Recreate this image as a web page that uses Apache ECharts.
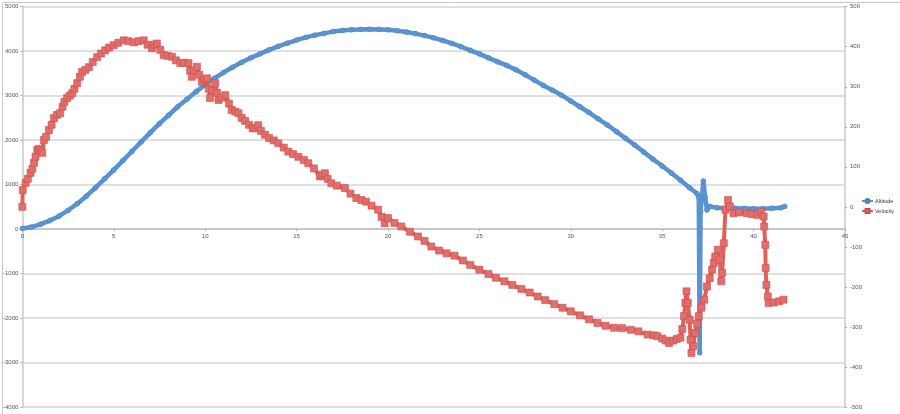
<!DOCTYPE html>
<html>
<head>
<meta charset="utf-8">
<script src="https://cdn.jsdelivr.net/npm/echarts@6/dist/echarts.min.js"></script>
<style>
html,body{margin:0;padding:0;background:#fff;}
#chart{width:900px;height:414px;}
</style>
</head>
<body>
<div id="chart"></div>
<script>
// Time (s) and altitude (left axis)
const altitudeData = [
  [0,15],[0.5,45],[1,110],[1.5,190],[2,290],[2.5,420],[3,570],[3.5,740],[4,930],[4.5,1130],
  [5,1330],[5.5,1540],[6,1750],[6.5,1960],[7,2170],[7.5,2370],[8,2560],[8.5,2750],[9,2920],[9.5,3090],
  [10,3240],[10.5,3390],[11,3520],[11.5,3640],[12,3750],[12.5,3850],[13,3940],[13.5,4030],[14,4110],[14.5,4180],
  [15,4250],[15.5,4310],[16,4360],[16.5,4400],[17,4440],[17.5,4465],[18,4480],[18.5,4490],[19,4495],[19.5,4490],
  [20,4480],[20.5,4460],[21,4430],[21.5,4395],[22,4350],[22.5,4300],[23,4240],[23.5,4175],[24,4100],[24.5,4020],
  [25,3940],[25.5,3850],[26,3760],[26.5,3680],[27,3580],[27.5,3470],[28,3350],[28.5,3230],[29,3120],[29.5,3010],
  [30,2880],[30.5,2750],[31,2620],[31.5,2480],[32,2340],[32.5,2190],[33,2040],[33.5,1890],[34,1730],[34.5,1570],
  [35,1420],[35.5,1260],[36,1100],[36.5,930],[36.9,800],[37.0,720],[37.05,-2780],[37.1,400],[37.25,1080],[37.35,720],
  [37.45,430],[37.6,510],[38,480],[38.5,470],[39,470],[39.5,465],[40,460],[40.5,460],[41,470],[41.5,480],[41.7,510]
];
// Time (s) and velocity (right axis)
const velocityData = [
  [0,0],[0.02,42],[0.18,60],[0.3,70],[0.45,85],[0.55,95],[0.64,110],[0.72,125],[0.82,142],[0.9,145],
  [1.0,140],[1.09,135],[1.18,167],[1.3,175],[1.45,192],[1.6,205],[1.73,222],[1.9,230],[2.07,234],[2.2,250],
  [2.3,262],[2.45,272],[2.6,278],[2.73,284],[2.85,295],[3.0,309],[3.15,325],[3.27,337],[3.45,342],[3.64,349],
  [3.85,362],[4.09,374],[4.3,383],[4.53,391],[4.75,398],[5.0,404],[5.25,410],[5.55,416],[5.8,414],[6.1,411],
  [6.35,414],[6.64,416],[6.85,405],[7.09,396],[7.22,405],[7.36,408],[7.55,392],[7.73,379],[7.95,377],[8.18,375],
  [8.4,366],[8.64,359],[8.85,360],[9.09,359],[9.18,340],[9.27,325],[9.4,340],[9.55,350],[9.68,330],[9.82,312],
  [9.95,318],[10.1,321],[10.2,295],[10.27,272],[10.4,290],[10.55,309],[10.65,285],[10.73,267],[10.9,273],[11.1,279],
  [11.3,258],[11.45,242],[11.65,238],[11.82,234],[12.0,222],[12.18,215],[12.4,205],[12.6,196],[12.73,197],[12.9,204],
  [13.05,190],[13.27,180],[13.5,172],[13.75,166],[14.0,159],[14.3,148],[14.55,138],[14.8,132],[15.1,125],[15.4,117],
  [15.64,109],[15.95,96],[16.27,76],[16.4,80],[16.55,84],[16.7,70],[16.9,59],[17.2,53],[17.64,47],[17.95,33],
  [18.27,22],[18.55,17],[18.8,13],[19.1,3],[19.46,-7],[19.65,-25],[19.82,-41],[20.0,-28],[20.35,-40],[20.73,-49],
  [21.2,-62],[21.64,-74],[22.0,-85],[22.37,-99],[22.8,-109],[23.2,-116],[23.64,-122],[24.1,-134],[24.5,-145],[25.0,-157],
  [25.5,-168],[25.9,-177],[26.37,-186],[26.8,-195],[27.3,-205],[27.75,-214],[28.19,-224],[28.6,-233],[29.1,-243],[29.55,-252],
  [30.0,-261],[30.5,-271],[31.0,-281],[31.46,-290],[31.9,-297],[32.37,-302],[32.8,-303],[33.28,-307],[33.7,-311],[34.2,-319],
  [34.55,-321],[34.73,-323],[35.0,-329],[35.2,-334],[35.37,-340],[35.6,-334],[35.8,-330],[36.0,-327],[36.1,-305],[36.19,-273],
  [36.27,-240],[36.33,-211],[36.4,-240],[36.5,-282],[36.55,-332],[36.6,-365],[36.7,-348],[36.8,-315],[36.9,-292],[37.0,-273],
  [37.15,-252],[37.3,-232],[37.45,-199],[37.6,-178],[37.73,-157],[37.82,-140],[37.9,-124],[38.05,-107],[38.15,-132],[38.23,-186],
  [38.28,-165],[38.37,-91],[38.46,-7],[38.6,17],[38.7,1],[38.9,-16],[39.2,-14],[39.64,-16],[39.9,-18],[40.2,-20],
  [40.4,-12],[40.55,-24],[40.58,-49],[40.64,-95],[40.66,-153],[40.7,-195],[40.78,-224],[40.82,-240],[41.1,-239],[41.4,-236],
  [41.64,-232]
];
const seriesNames = ['Altitude', 'Velocity'];
const xRange = [0, 45, 5];
const leftRange = [-4000, 5000, 1000];
const rightRange = [-500, 500, 100];

const gridTop = 6.7, gridBottom = 7, chartH = 414;
const plotH = chartH - gridTop - gridBottom;
// pixel offset from plot bottom to the left axis' zero value
const zeroOffset = plotH * (0 - leftRange[0]) / (leftRange[1] - leftRange[0]);

const chart = echarts.init(document.getElementById('chart'), null, {renderer: 'canvas'});
const labelFont = {fontSize: 6, color: '#555', fontFamily: 'Liberation Sans, Arial, sans-serif'};
const plain = v => String(v);
chart.setOption({
  animation: false,
  backgroundColor: '#fff',
  graphic: [{
    type: 'rect', left: 0, top: 0,
    shape: {x: 0.5, y: 0.5, width: 898.5, height: 412.5},
    style: {fill: 'none', stroke: '#c8c8c8', lineWidth: 1}, silent: true, z: -1
  }],
  grid: {left: 20, right: 55, top: gridTop, bottom: gridBottom, containLabel: false},
  legend: {
    orient: 'vertical', left: 861, top: 198, itemGap: 4, itemWidth: 11, itemHeight: 5,
    padding: 0,
    textStyle: {fontSize: 5.5, color: '#333', fontFamily: 'Liberation Sans, Arial, sans-serif', padding: [0,0,0,-3]},
    data: seriesNames
  },
  xAxis: {
    type: 'value', min: xRange[0], max: xRange[1], interval: xRange[2],
    position: 'bottom', offset: -zeroOffset,
    axisLine: {onZero: false, lineStyle: {color: '#c8c8c8', width: 2}},
    axisTick: {show: true, length: 2, lineStyle: {color: '#aaa'}},
    axisLabel: Object.assign({margin: 4, formatter: plain}, labelFont),
    splitLine: {show: false}
  },
  yAxis: [{
    type: 'value', min: leftRange[0], max: leftRange[1], interval: leftRange[2],
    axisLine: {show: true, onZero: false, lineStyle: {color: '#c8c8c8', width: 1.5}},
    axisTick: {show: true, length: 2, lineStyle: {color: '#aaa'}},
    axisLabel: Object.assign({margin: 4, formatter: plain}, labelFont),
    splitLine: {show: true, lineStyle: {color: '#d6d6d6', width: 1.5}}
  }, {
    type: 'value', position: 'right', min: rightRange[0], max: rightRange[1], interval: rightRange[2],
    axisLine: {show: true, onZero: false, lineStyle: {color: '#c8c8c8', width: 1.5}},
    axisTick: {show: true, length: 2, lineStyle: {color: '#aaa'}},
    axisLabel: Object.assign({margin: 5, formatter: plain}, labelFont),
    splitLine: {show: false}
  }],
  series: [{
    name: seriesNames[0], type: 'line', yAxisIndex: 0, data: altitudeData,
    symbol: 'circle', symbolSize: 5, showSymbol: true,
    lineStyle: {color: '#5b93d1', width: 4.5},
    itemStyle: {color: '#5b97d5', borderColor: '#4a7ebb', borderWidth: 0.5},
    z: 2
  }, {
    name: seriesNames[1], type: 'line', yAxisIndex: 1, data: velocityData,
    symbol: 'rect', symbolSize: 7, showSymbol: true,
    lineStyle: {color: '#de615e', width: 4},
    itemStyle: {color: '#e46c6a', borderColor: '#c4504d', borderWidth: 0.6},
    z: 3
  }]
});
</script>
</body>
</html>
